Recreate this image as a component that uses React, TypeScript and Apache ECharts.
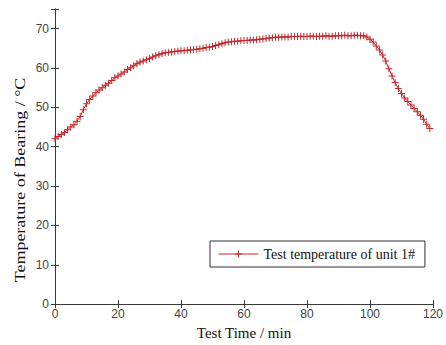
import React, { useEffect, useRef } from "react";
import * as echarts from "echarts";

const times: number[] = Array.from({ length: 120 }, (_, i) => i);
const temps: number[] = [
  42.0, 42.6, 43.1, 43.6, 44.3, 45.0, 45.6, 46.5, 47.7, 49.4,
  50.9, 52.0, 52.9, 53.7, 54.4, 55.0, 55.6, 56.1, 56.8, 57.5,
  58.0, 58.5, 59.0, 59.6, 60.1, 60.6, 61.1, 61.5, 61.8, 62.1,
  62.4, 62.8, 63.1, 63.4, 63.7, 63.9, 64.0, 64.1, 64.2, 64.3,
  64.4, 64.4, 64.5, 64.6, 64.7, 64.8, 64.9, 65.0, 65.2, 65.3,
  65.5, 65.7, 65.9, 66.2, 66.4, 66.6, 66.7, 66.8, 66.8, 66.9,
  67.0, 67.0, 67.1, 67.1, 67.2, 67.3, 67.4, 67.5, 67.6, 67.7,
  67.8, 67.8, 67.9, 67.9, 67.9, 68.0, 68.0, 68.0, 68.1, 68.0,
  68.0, 68.1, 68.1, 68.0, 68.1, 68.1, 68.2, 68.1, 68.1, 68.2,
  68.2, 68.2, 68.3, 68.2, 68.2, 68.3, 68.3, 68.2, 68.2, 67.9,
  67.3, 66.6, 65.6, 64.6, 63.3, 61.8, 59.8, 58.0, 56.3, 54.8,
  53.5, 52.4, 51.5, 50.6, 49.7, 48.9, 48.0, 47.0, 45.7, 44.6,
];
const xTicks = [0, 20, 40, 60, 80, 100, 120];
const yTicks = [0, 10, 20, 30, 40, 50, 60, 70];
const seriesName = "Test temperature of unit 1#";
const xTitle = "Test Time / min";
const yTitle = "Temperature of Bearing / \u00b0C";

const RED = "#c4282c";
const AXIS = "#3a3a3a";
const PLUS = "path://M3,0h1v3h3v1h-3v3h-1v-3h-3v-1h3z";

export default function App() {
  const ref = useRef<HTMLDivElement>(null);
  useEffect(() => {
    if (!ref.current) return;
    const chart = echarts.init(ref.current, undefined, { renderer: "svg" });
    const axisCommon = {
      axisLine: { show: true, lineStyle: { color: AXIS, width: 1 } },
      axisTick: { show: true, inside: true, length: 4, lineStyle: { color: AXIS } },
      splitLine: { show: false },
    };
    chart.setOption({
      animation: false,
      backgroundColor: "#ffffff",
      grid: { left: 55, right: 10, top: 9, bottom: 36, containLabel: false },
      xAxis: [
        {
          type: "value",
          min: 0,
          max: 120,
          interval: 20,
          position: "bottom",
          name: xTitle,
          nameLocation: "middle",
          nameGap: 18,
          nameTextStyle: { fontFamily: "Liberation Serif", fontSize: 15, color: "#111", verticalAlign: "top" },
          axisLabel: {
            color: "#444",
            fontFamily: "Liberation Sans",
            fontSize: 12,
            margin: 4,
            formatter: (v: number) => (xTicks.includes(v) ? String(v) : ""),
          },
          ...axisCommon,
        },
        {
          type: "value",
          min: 0,
          max: 120,
          interval: 20,
          position: "top",
          axisLabel: { show: false },
          ...axisCommon,
        },
      ],
      yAxis: [
        {
          type: "value",
          min: 0,
          max: 75,
          interval: 10,
          position: "left",
          axisLabel: {
            color: "#444",
            fontFamily: "Liberation Sans",
            fontSize: 12,
            margin: 6,
            formatter: (v: number) => (yTicks.includes(v) ? String(v) : ""),
          },
          ...axisCommon,
        },
        {
          type: "value",
          min: 0,
          max: 75,
          interval: 10,
          position: "right",
          axisLabel: { show: false },
          ...axisCommon,
        },
      ],
      legend: {
        left: 210,
        top: 241,
        padding: [6, 10, 6, 8],
        borderColor: "#333",
        borderWidth: 1,
        backgroundColor: "#fff",
        itemWidth: 40,
        itemHeight: 9,
        itemGap: 5,
        lineStyle: { width: 1 },
        textStyle: { fontFamily: "Liberation Serif", fontSize: 14, color: "#111" },
        data: [seriesName],
      },
      graphic: [
        {
          type: "text",
          x: 20,
          y: 180,
          rotation: Math.PI / 2,
          scaleX: 1.2,
          style: {
            text: yTitle,
            fontFamily: "Liberation Serif",
            fontSize: 15,
            fill: "#111",
            align: "center",
            verticalAlign: "middle",
          },
        },
      ],
      series: [
        {
          name: seriesName,
          type: "line",
          data: times.map((t, i) => [t, temps[i]]),
          symbol: PLUS,
          symbolSize: 7,
          showSymbol: true,
          itemStyle: { color: RED },
          lineStyle: { color: RED, width: 1 },
        },
      ],
    });
    return () => chart.dispose();
  }, []);
  return <div ref={ref} style={{ width: 446, height: 345, position: "absolute", left: 0, top: 0 }} />;
}
